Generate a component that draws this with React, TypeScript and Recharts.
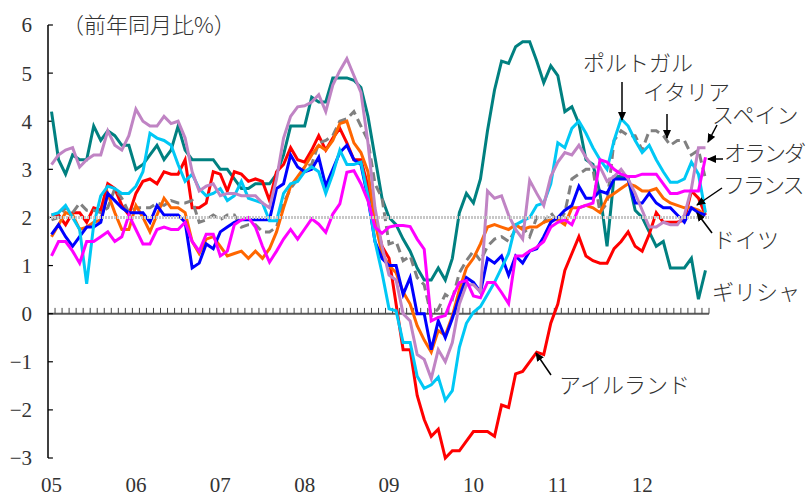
import * as React from "react";
import {
  LineChart,
  Line,
  XAxis,
  YAxis,
  ReferenceLine,
} from "recharts";

// 月次、2005年1月〜2012年10月（94か月）
const yearLabels = ["05", "06", "07", "08", "09", "10", "11", "12"];
const yTicks = [-3, -2, -1, 0, 1, 2, 3, 4, 5, 6];

const greece = [
  4.2, 3.2, 2.9, 3.3, 3.2, 3.2, 3.9, 3.6, 3.8, 3.7, 3.5, 3.5,
  3.0, 3.1, 3.3, 3.5, 3.2, 3.4, 3.9, 3.4, 3.2, 3.2, 3.2, 3.2,
  3.0, 3.0, 2.8, 2.6, 2.6, 2.7, 2.7, 2.7, 2.9, 3.3, 3.9, 3.9,
  3.9, 4.5, 4.4, 4.4, 4.9, 4.9, 4.9, 4.85, 4.7, 4.1, 3.25, 2.4,
  2.0, 1.85, 1.55, 1.3, 0.95, 0.7, 0.7, 0.95, 0.7, 1.15, 2.1, 2.5,
  2.3, 2.8, 3.8, 4.65, 5.25, 5.2, 5.55, 5.65, 5.65, 5.25, 4.8, 5.15,
  4.95, 4.2, 4.3, 3.95, 3.2, 3.1, 2.5, 1.4, 2.85, 2.85, 2.8, 2.15,
  2.0, 1.7, 1.4, 1.5, 0.95, 0.95, 0.95, 1.15, 0.3, 0.9,
];
const ireland = [
  2.05, 2.05, 1.85, 2.1, 2.1, 1.9, 2.2, 2.15, 2.7, 2.6, 2.25, 2.05,
  2.5, 2.75, 2.8, 2.7, 2.95, 2.9, 2.9, 3.2, 2.2, 2.2, 2.3, 2.95,
  2.9, 2.55, 2.95, 2.9, 2.75, 2.8, 2.75, 2.35, 2.95, 3.1, 3.45, 3.2,
  3.15, 3.4, 3.7, 3.4, 3.65, 3.85, 3.55, 3.2, 3.2, 2.65, 2.0, 1.4,
  1.15, 0.2, -0.75, -0.75, -1.7, -2.2, -2.55, -2.4, -3.0, -2.85, -2.85, -2.65,
  -2.45, -2.45, -2.45, -2.55, -1.9, -1.95, -1.25, -1.2, -1.0, -0.8, -0.85, -0.2,
  0.2, 0.9, 1.25, 1.6, 1.2, 1.1, 1.05, 1.05, 1.35, 1.5, 1.7, 1.4,
  1.3, 1.65, 2.1, 1.9, 1.9, 1.9, 1.95, 2.55, 2.4, 2.05,
];
const italy = [
  1.95, 2.0, 2.2, 2.1, 2.3, 2.15, 2.15, 2.1, 2.2, 2.6, 2.4, 2.1,
  2.2, 2.2, 2.2, 2.3, 2.25, 2.35, 2.3, 2.3, 2.35, 1.9, 1.95, 2.05,
  1.95, 2.05, 2.05, 1.8, 1.85, 1.85, 1.7, 1.7, 1.8, 2.3, 2.6, 2.8,
  3.05, 3.1, 3.55, 3.6, 3.7, 4.0, 4.05, 4.2, 3.9, 3.6, 2.7, 2.4,
  1.45, 1.5, 1.1, 1.2, 0.75, 0.6, -0.05, 0.1, 0.4, 0.3, 0.85, 1.1,
  1.3, 1.1, 1.4, 1.55, 1.6, 1.5, 1.75, 1.8, 1.6, 2.0, 1.9, 2.1,
  1.9, 2.1, 2.8, 2.9, 3.0, 3.0, 2.1, 2.3, 3.6, 3.8, 3.7, 3.7,
  3.4, 3.8, 3.8, 3.7, 3.5, 3.6, 3.6, 3.3, 3.4, 2.8,
];
const france = [
  1.6, 1.85, 2.1, 2.05, 1.75, 1.8, 1.9, 1.95, 2.5, 2.1, 1.75, 1.75,
  2.25, 2.0, 1.7, 2.05, 2.4, 2.2, 2.2, 2.1, 1.5, 1.25, 1.55, 1.6,
  1.4, 1.2, 1.25, 1.3, 1.15, 1.3, 1.15, 1.35, 1.7, 2.2, 2.65, 2.85,
  3.05, 3.3, 3.5, 3.4, 3.6, 3.95, 4.0, 3.55, 3.35, 2.95, 1.9, 1.25,
  1.0, 0.85, 0.45, 0.2, -0.25, -0.55, -0.8, -0.35, -0.45, -0.05, 0.5, 0.95,
  1.15, 1.45, 1.8, 1.85, 1.8, 1.75, 1.85, 1.75, 1.8, 1.8, 1.9, 1.95,
  1.95, 1.85, 2.2, 2.2, 2.25, 2.2, 2.1, 2.4, 2.5, 2.6, 2.7, 2.65,
  2.55, 2.55, 2.6, 2.4, 2.3, 2.25, 2.2, 2.2, 2.15, 2.05,
];
const germany = [
  1.65, 1.85, 1.6, 1.4, 1.6, 1.8, 1.8, 1.9, 2.5, 2.35, 2.2, 2.1,
  2.1, 2.1, 1.9, 2.25, 2.05, 2.05, 2.05, 1.9, 0.95, 1.05, 1.45, 1.35,
  1.7, 1.8, 1.9, 1.95, 1.95, 1.95, 1.95, 1.95, 2.6, 2.7, 3.3, 3.05,
  2.95, 3.0, 3.25, 2.65, 3.0, 3.35, 3.5, 3.2, 3.1, 2.4, 1.5, 1.15,
  1.0, 1.0, 0.4, 0.75, 0.0, 0.0, -0.75, -0.15, -0.5, -0.1, 0.35, 0.75,
  0.65, 0.45, 1.15, 1.05, 1.2, 0.8, 1.2, 1.05, 1.3, 1.35, 1.6, 1.9,
  2.0, 2.15, 2.25, 2.65, 2.4, 2.4, 2.55, 2.5, 2.8, 2.8, 2.8, 2.3,
  2.3, 2.5, 2.3, 2.2, 2.2, 2.05, 1.9, 2.2, 2.1, 2.05,
];
const portugal = [
  2.05, 2.1, 2.25, 2.0, 1.75, 0.62, 1.85, 2.45, 2.65, 2.6, 2.5, 2.5,
  2.65, 2.95, 3.75, 3.65, 3.6, 3.5, 3.1, 2.75, 2.9, 2.6, 2.45, 2.5,
  2.6, 2.35, 2.45, 2.75, 2.4, 2.35, 2.3, 1.93, 1.93, 2.5, 2.7, 2.75,
  2.95, 3.05, 2.95, 2.5, 2.9, 3.4, 3.1, 3.1, 3.15, 2.45, 1.5, 0.85,
  0.1, 0.06, -0.6, -0.6, -1.3, -1.55, -1.48, -1.32, -1.8, -1.6, -0.7, -0.2,
  0.03, 0.15, 0.4, 0.65, 0.95, 1.25, 1.85, 1.93, 2.0, 2.25, 2.3, 2.7,
  3.55, 3.45, 3.85, 4.0, 3.75, 3.45, 3.2, 3.0, 3.6, 4.05, 3.9, 3.6,
  3.35, 3.5, 3.2, 2.95, 2.73, 2.73, 2.8, 3.15, 2.9, 2.1,
];
const spain = [
  3.1, 3.3, 3.4, 3.45, 3.05, 3.2, 3.3, 3.3, 3.8, 3.5, 3.4, 3.7,
  4.25, 4.0, 3.9, 3.9, 4.1, 3.95, 4.0, 3.65, 2.95, 2.55, 2.65, 2.7,
  2.45, 2.5, 2.5, 2.45, 2.45, 2.45, 2.3, 2.2, 2.8, 3.65, 4.1, 4.3,
  4.32, 4.4, 4.55, 4.2, 4.75, 5.05, 5.3, 4.95, 4.6, 3.55, 2.2, 1.4,
  0.8, 0.7, 0.0, -0.15, -0.85, -0.95, -1.35, -0.75, -1.0, -0.6, 0.2, 0.6,
  0.6, 0.45, 2.55, 2.4, 2.45, 2.05, 1.75, 1.55, 2.77, 2.5, 2.25, 2.85,
  3.15, 3.35, 3.3, 3.5, 3.25, 3.05, 3.05, 2.75, 2.85, 3.0, 2.8, 2.5,
  2.15, 1.8, 1.8, 1.9, 1.85, 1.85, 2.05, 2.6, 3.45, 3.45,
];
const netherlands = [
  1.2, 1.5, 1.5, 1.3, 1.05, 1.5, 1.5, 1.6, 1.7, 1.5, 1.6, 2.05,
  1.75, 1.45, 1.45, 1.75, 1.8, 1.75, 1.75, 1.9, 1.5, 1.3, 1.65, 1.65,
  1.2, 1.3, 1.85, 1.95, 2.0, 1.8, 1.4, 1.07, 1.3, 1.55, 1.75, 1.55,
  1.76, 1.97, 1.86, 1.69, 2.07, 2.28, 2.94, 2.97, 2.7, 2.35, 1.8, 1.67,
  1.8, 1.83, 1.83, 1.81, 1.55, 1.34, -0.15, -0.08, -0.04, 0.34, 0.65, 0.69,
  0.37, 0.33, 0.65, 0.65, 0.44, 0.21, 1.2, 1.2, 1.3, 1.38, 1.5, 1.8,
  1.9, 1.95, 1.85, 2.2, 2.25, 2.3, 3.2, 3.15, 3.0, 2.9, 2.85, 2.85,
  2.9, 2.9, 2.9, 2.7, 2.5, 2.5, 2.55, 2.55, 2.55, 3.25,
];

const data = greece.map((_, i) => ({
  i,
  greece: greece[i],
  ireland: ireland[i],
  italy: italy[i],
  france: france[i],
  germany: germany[i],
  portugal: portugal[i],
  spain: spain[i],
  netherlands: netherlands[i],
}));

const monthEdges = greece.map((_, i) => i + 0.5);

const W = 809;
const H = 498;
const serif = "'Liberation Serif', 'Times New Roman', serif";
const jp = "'Noto Sans CJK JP', sans-serif";

const fmtY = (v: number) => (v < 0 ? `\u2212${Math.abs(v)}` : String(v));

const labels = [
  { t: "ポルトガル", x: 583, y: 71, ls: 0 },
  { t: "イタリア", x: 643, y: 100, ls: 0 },
  { t: "スペイン", x: 712, y: 123, ls: 0 },
  { t: "オランダ", x: 724, y: 161, ls: -2 },
  { t: "フランス", x: 723, y: 193, ls: -2 },
  { t: "ドイツ", x: 713, y: 248, ls: 0 },
  { t: "ギリシャ", x: 712, y: 300, ls: 0 },
  { t: "アイルランド", x: 559, y: 393, ls: 0 },
];

const arrows = [
  [622, 82, 622, 120],
  [667, 114, 667, 138],
  [717, 125, 708, 142],
  [723, 159, 708, 159],
  [722, 188, 697, 205],
  [712, 233, 697, 213],
  [551, 375, 536, 353],
];

export default function App() {
  return (
    <div style={{ position: "absolute", left: 0, top: 0, width: W, height: H, background: "#fff" }}>
      <LineChart
        width={W}
        height={H}
        data={data}
        margin={{ top: 25, right: 100, left: 0, bottom: 10 }}
      >
        <XAxis
          type="number"
          dataKey="i"
          domain={[-0.5, 93.5]}
          ticks={[0, 12, 24, 36, 48, 60, 72, 84]}
          tickFormatter={(v: number) => yearLabels[Math.round(v / 12)]}
          axisLine={false}
          tickLine={false}
          tickMargin={13}
          tick={{ fontFamily: serif, fontSize: 21, fill: "#333" }}
          allowDataOverflow
        />
        <YAxis
          domain={[-3, 6]}
          ticks={yTicks}
          width={48}
          tickFormatter={fmtY}
          tickLine={false}
          tickMargin={10}
          axisLine={{ stroke: "#000", strokeWidth: 1.5 }}
          tick={{ fontFamily: serif, fontSize: 21, fill: "#333" }}
          interval={0}
        />
        <ReferenceLine y={0} stroke="#5a5a5a" strokeWidth={2} />
        {monthEdges.map((m) => (
          <ReferenceLine
            key={m}
            segment={[
              { x: m, y: 0 },
              { x: m, y: 0.12 },
            ]}
            stroke="#444"
            strokeWidth={1}
          />
        ))}
        {yTicks.map((v) => (
          <ReferenceLine
            key={"y" + v}
            segment={[
              { x: -0.5, y: v },
              { x: 0.2, y: v },
            ]}
            stroke="#000"
            strokeWidth={1.2}
          />
        ))}
        <Line dataKey="greece" stroke="#008080" strokeWidth={3} dot={false} isAnimationActive={false} />
        <Line dataKey="ireland" stroke="#ff0000" strokeWidth={3} dot={false} isAnimationActive={false} />
        <Line dataKey="italy" stroke="#808080" strokeWidth={3} strokeDasharray="9 5" dot={false} isAnimationActive={false} />
        <Line dataKey="france" stroke="#ff6600" strokeWidth={3} dot={false} isAnimationActive={false} />
        <Line dataKey="germany" stroke="#0000ff" strokeWidth={3} dot={false} isAnimationActive={false} />
        <Line dataKey="portugal" stroke="#00c8f5" strokeWidth={3} dot={false} isAnimationActive={false} />
        <Line dataKey="spain" stroke="#c084c4" strokeWidth={3} dot={false} isAnimationActive={false} />
        <Line dataKey="netherlands" stroke="#ff00ff" strokeWidth={3} dot={false} isAnimationActive={false} />
        <ReferenceLine y={2} stroke="#c8c8c8" strokeWidth={3} strokeDasharray="2 1" />
      </LineChart>
      <svg
        width={W}
        height={H}
        style={{ position: "absolute", left: 0, top: 0, pointerEvents: "none" }}
      >
        <defs>
          <marker id="ah" markerWidth="9" markerHeight="8" refX="8" refY="4" orient="auto" markerUnits="userSpaceOnUse">
            <path d="M0,0 L9,4 L0,8 z" fill="#000" />
          </marker>
        </defs>
        <text x={62} y={33} fontFamily={jp} fontWeight={300} fontSize={22} fill="#333">
          （前年同月比%）
        </text>
        {labels.map((l) => (
          <text
            key={l.t}
            x={l.x}
            y={l.y}
            fontFamily={jp}
            fontWeight={300}
            fontSize={22}
            letterSpacing={l.ls}
            fill="#333"
          >
            {l.t}
          </text>
        ))}
        {arrows.map((a, k) => (
          <line
            key={k}
            x1={a[0]}
            y1={a[1]}
            x2={a[2]}
            y2={a[3]}
            stroke="#000"
            strokeWidth={1.5}
            markerEnd="url(#ah)"
          />
        ))}
      </svg>
    </div>
  );
}
